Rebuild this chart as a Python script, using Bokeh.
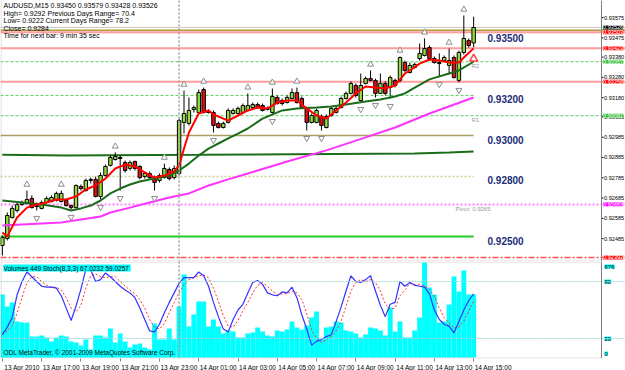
from bokeh.plotting import figure
from bokeh.models import Range1d, Span, BoxAnnotation, FixedTicker, ColumnDataSource
from bokeh.layouts import column
from bokeh.embed import file_html
from bokeh.resources import INLINE
from bokeh.core.properties import value

# ------------------------------------------------------------------ data
symbol = "AUDUSD,M15"
bars = list(range(97))  # M15 bars, 13 Apr 15:00 .. 14 Apr 15:00

opens = [0.92451,0.92486,0.92589,0.92624,0.92653,0.92658,0.92683,0.92648,0.92634,0.92663,
         0.92668,0.92673,0.92668,0.92673,0.92648,0.92638,0.92742,0.92722,0.92772,0.92777,
         0.92693,0.92796,0.92846,0.92875,0.92885,0.92860,0.92831,0.92865,0.92841,0.92791,
         0.92806,0.92786,0.92772,0.92786,0.92826,0.92786,0.92806,0.93058,0.93053,0.93122,
         0.93107,0.93220,0.93112,0.93107,0.93053,0.93033,0.93058,0.93102,0.93102,0.93107,
         0.93117,0.93131,0.93146,0.93141,0.93127,0.93107,0.93181,0.93166,0.93156,0.93176,
         0.93205,0.93176,0.93127,0.93058,0.93058,0.93087,0.93033,0.93092,0.93107,0.93131,
         0.93176,0.93201,0.93240,0.93166,0.93250,0.93274,0.93265,0.93201,0.93250,0.93230,
         0.93265,0.93265,0.93353,0.93304,0.93329,0.93373,0.93388,0.93427,0.93373,0.93353,
         0.93363,0.93339,0.93378,0.93265,0.93403,0.93462,0.93450]
highs = [0.92500,0.92614,0.92648,0.92663,0.92673,0.92722,0.92698,0.92663,0.92673,0.92693,
         0.92698,0.92717,0.92722,0.92683,0.92653,0.92752,0.92752,0.92781,0.92786,0.92791,
         0.92811,0.92850,0.92895,0.92910,0.92895,0.92870,0.92870,0.92870,0.92846,0.92816,
         0.92816,0.92796,0.92806,0.92855,0.92836,0.92846,0.93077,0.93215,0.93181,0.93141,
         0.93220,0.93230,0.93122,0.93117,0.93062,0.93062,0.93127,0.93127,0.93136,0.93151,
         0.93201,0.93156,0.93156,0.93151,0.93136,0.93225,0.93191,0.93176,0.93191,0.93225,
         0.93230,0.93186,0.93136,0.93102,0.93127,0.93097,0.93097,0.93136,0.93136,0.93186,
         0.93210,0.93260,0.93250,0.93299,0.93284,0.93314,0.93274,0.93299,0.93260,0.93289,
         0.93274,0.93383,0.93363,0.93353,0.93353,0.93447,0.93472,0.93437,0.93383,0.93398,
         0.93388,0.93422,0.93388,0.93412,0.93585,0.93472,0.93579]
lows = [0.92402,0.92476,0.92584,0.92614,0.92648,0.92653,0.92634,0.92624,0.92629,0.92658,
        0.92663,0.92668,0.92663,0.92643,0.92629,0.92634,0.92722,0.92717,0.92757,0.92688,
        0.92678,0.92791,0.92841,0.92870,0.92722,0.92811,0.92821,0.92821,0.92777,0.92781,
        0.92777,0.92722,0.92762,0.92781,0.92772,0.92777,0.92796,0.93003,0.93043,0.93107,
        0.93102,0.93102,0.93102,0.93008,0.93028,0.93028,0.93053,0.93097,0.93097,0.93102,
        0.93112,0.93127,0.93127,0.93112,0.93117,0.93102,0.93146,0.93141,0.93151,0.93171,
        0.93151,0.93127,0.93018,0.93053,0.93053,0.93018,0.93028,0.93087,0.93102,0.93127,
        0.93171,0.93196,0.93181,0.93161,0.93245,0.93260,0.93181,0.93201,0.93191,0.93176,
        0.93230,0.93255,0.93304,0.93299,0.93324,0.93363,0.93383,0.93363,0.93348,0.93284,
        0.93358,0.93294,0.93274,0.93255,0.93393,0.93427,0.93428]
closes = [0.92491,0.92599,0.92634,0.92653,0.92663,0.92678,0.92638,0.92643,0.92663,0.92683,
          0.92688,0.92708,0.92708,0.92648,0.92638,0.92747,0.92732,0.92772,0.92777,0.92693,
          0.92796,0.92841,0.92885,0.92890,0.92880,0.92821,0.92860,0.92831,0.92786,0.92806,
          0.92786,0.92762,0.92796,0.92831,0.92781,0.92831,0.93067,0.93102,0.93117,0.93131,
          0.93205,0.93107,0.93107,0.93043,0.93033,0.93053,0.93117,0.93117,0.93127,0.93141,
          0.93141,0.93146,0.93131,0.93117,0.93122,0.93186,0.93151,0.93151,0.93181,0.93205,
          0.93156,0.93131,0.93058,0.93092,0.93117,0.93043,0.93087,0.93127,0.93127,0.93176,
          0.93201,0.93250,0.93191,0.93240,0.93274,0.93265,0.93201,0.93250,0.93201,0.93279,
          0.93240,0.93378,0.93314,0.93339,0.93343,0.93398,0.93422,0.93373,0.93353,0.93348,
          0.93378,0.93363,0.93279,0.93403,0.93472,0.93437,0.93526]
volumes = [448,363,391,256,249,249,149,149,157,142,
           114,142,157,149,114,107,85,128,57,157,
           157,142,206,107,171,114,71,93,100,71,
           57,242,128,128,206,128,363,591,221,306,
           398,398,221,270,221,171,192,185,142,142,
           171,178,213,185,157,149,192,185,199,256,
           213,199,228,285,327,128,213,221,256,249,
           192,185,171,142,164,213,206,192,157,356,
           185,256,142,142,192,285,676,498,448,249,
           256,377,576,470,619,448,449]
stoch_k = [24,32,42,66,80,90,85,80,75,74,74,73,65,52,39,54,72,93,92,80,
           82,89,85,80,75,71,68,63,52,40,28,27,35,47,58,68,78,84,84,84,
           90,86,75,58,43,30,27,40,50,56,68,79,81,77,68,66,65,69,68,74,
           63,45,30,13,17,19,22,24,38,53,70,86,80,79,82,86,70,55,43,56,
           58,80,75,79,76,75,74,67,50,40,35,33,26,38,50,60,67.0232]
stoch_d = [24,28,33,47,63,79,85,85,80,76,74,74,71,63,52,48,55,73,86,88,
           85,84,85,85,80,75,71,67,61,52,40,32,30,36,47,58,68,77,82,84,
           86,87,84,73,59,44,33,32,39,49,58,68,76,79,75,70,66,67,67,70,
           68,61,46,29,20,16,19,22,28,38,54,70,79,82,80,82,79,70,56,51,
           52,65,71,78,77,77,75,72,64,52,42,36,31,32,38,49,59.0257]
stoch_levels = [80, 20]

# moving averages (bar index, price)
fast_ma_bars = [0,1,3,5,7,9,11,13,15,17,19,21,23,25,27,29,31,33,35,36,37,38,40,42,43,46,48,50,52,54,
                56,58,60,62,64,66,68,70,72,74,76,78,80,82,83,85,87,89,91,93,94,96]
fast_ma = [0.92515,0.92496,0.92589,0.92638,0.92653,0.92663,0.92678,0.92678,0.92693,0.92727,
           0.92747,0.92781,0.92831,0.92850,0.92841,0.92811,0.92786,0.92796,0.92816,0.92846,
           0.92929,0.93008,0.93102,0.93117,0.93097,0.93067,0.93092,0.93117,0.93131,0.93127,
           0.93156,0.93166,0.93166,0.93127,0.93092,0.93077,0.93117,0.93156,0.93201,0.93235,
           0.93230,0.93225,0.93240,0.93299,0.93314,0.93348,0.93368,0.93363,0.93353,0.93353,
           0.93378,0.93423]
mid_ma_bars = [0,4,8,12,14,16,18,20,22,24,26,28,30,32,34,36,38,40,42,44,46,48,50,53,57,60,64,67,70,74,
               77,80,82,84,87,91,93,96]
mid_ma = [0.92673,0.92663,0.92653,0.92638,0.92624,0.92634,0.92648,0.92673,0.92708,0.92732,
          0.92752,0.92767,0.92777,0.92786,0.92796,0.92821,0.92855,0.92895,0.92929,0.92954,
          0.92979,0.93003,0.93028,0.93077,0.93117,0.93127,0.93131,0.93136,0.93146,0.93161,
          0.93171,0.93186,0.93201,0.93230,0.93270,0.93299,0.93314,0.93357]
slow_ma_bars = [0,4,8,12,16,20,22,26,30,34,38,42,46,50,58,66,74,80,87,96]
slow_ma = [0.92550,0.92555,0.92560,0.92565,0.92579,0.92594,0.92614,0.92638,0.92663,0.92688,
           0.92708,0.92747,0.92777,0.92806,0.92865,0.92920,0.92984,0.93033,0.93102,0.93181]
daily_ma_bars = [0,13,40,84,91,96]
daily_ma = [0.92898,0.92895,0.92898,0.92905,0.92910,0.92915]

# horizontal levels
bid = 0.93526
pink_levels = [0.93503, 0.93423, 0.93258]
r2, r1 = 0.93357, 0.93091
green_short = 0.93191
olive_top = 0.93512
olive_mid = 0.92993
khaki_level = 0.92791
pivot = 0.92653
lime_level = 0.92495
s1 = 0.92392
round_levels = [0.935, 0.932, 0.930, 0.928, 0.925]
signal_bar, signal_price = [96], [0.93372]

price_ticks = [0.93575,0.93475,0.93380,0.93280,0.93180,0.93085,0.92985,0.92885,0.92785,0.92685,0.92585,0.92485]
time_tick_bars = [0,8,16,24,32,40,48,56,64,72,80,88,96]
time_labels = ["13 Apr 2010","13 Apr 17:00","13 Apr 19:00","13 Apr 21:00","13 Apr 23:00",
               "14 Apr 01:00","14 Apr 03:00","14 Apr 05:00","14 Apr 07:00","14 Apr 09:00",
               "14 Apr 11:00","14 Apr 13:00","14 Apr 15:00"]
day_start_bar = 36

# ------------------------------------------------------------------ layout helpers
FONT = value("Liberation Sans")
BAR0_PX, PX_PER_BAR = 1.88, 4.909
TOP_PRICE, PRICE_PER_PX = 0.93659, 0.0000493
def bx(px): return (px - BAR0_PX) / PX_PER_BAR
def py(px): return TOP_PRICE - PRICE_PER_PX * px
SUB_ZERO, SUB_SCALE = 358 - 262, 0.95
def sv(px): return (SUB_ZERO - px) / SUB_SCALE   # px relative to sub window top
AX = bx(601)
XL = bx(0)
GRAY = "#808080"
SCALE_FONT = "5.6px"

# ------------------------------------------------------------------ main window
p1 = figure(frame_width=625, frame_height=261, x_range=Range1d(bx(0), bx(625)),
            y_range=Range1d(py(261), py(0)), output_backend="svg", toolbar_location=None,
            min_border=0, x_axis_location=None, y_axis_location=None, outline_line_color=None,
            background_fill_color="white", border_fill_color="white")

def hspan(p, v, color, width=1, dash="solid"):
    p.add_layout(Span(location=v, dimension="width", line_color=color, line_width=width,
                      line_dash=dash, level="underlay"))

hspan(p1, bid, "#c8c8c8", 1)
hspan(p1, olive_top, "#b0a040", 1.5)
for v in pink_levels:
    hspan(p1, v, "#ff9c9c", 2)
for v in (r2, r1):
    hspan(p1, v, "#5ccc5c", 1, "3 2")
hspan(p1, pivot, "#ff80ff", 2, "2 2")
hspan(p1, s1, "#ff5050", 1.5, "6 2 2 2")
last = bars[-1]
p1.segment(x0=[XL], x1=[last], y0=[green_short], y1=[green_short], line_color="#5ccc5c", line_dash="3 2", line_width=1)
p1.segment(x0=[XL], x1=[last], y0=[olive_mid], y1=[olive_mid], line_color="#a8a060", line_width=1.5)
p1.segment(x0=[XL], x1=[last], y0=[khaki_level], y1=[khaki_level], line_color="#cfcf94", line_dash="2 2", line_width=1.5)
p1.segment(x0=[XL], x1=[last], y0=[lime_level], y1=[lime_level], line_color="#22cc22", line_width=2)
p1.line(daily_ma_bars, daily_ma, line_color="#1a6e1a", line_width=2)

# candles
tops = [max(o, c) for o, c in zip(opens, closes)]
bots = [min(o, c) for o, c in zip(opens, closes)]
cols = ["#95dd3c" if c >= o else "#dd1111" for o, c in zip(opens, closes)]
src = ColumnDataSource(dict(x=bars, h=highs, l=lows, top=tops, bot=bots, col=cols))
p1.segment(x0="x", y0="h", x1="x", y1="l", source=src, line_color="black", line_width=1)
p1.vbar(x="x", width=0.7, top="top", bottom="bot", source=src, fill_color="col", line_color="black", line_width=1)

p1.line(slow_ma_bars, slow_ma, line_color="#ff33ff", line_width=2)
p1.line(mid_ma_bars, mid_ma, line_color="#1a6b1a", line_width=2)
p1.line(fast_ma_bars, fast_ma, line_color="#ff0000", line_width=2)

# fractals
up_x, up_y, dn_x, dn_y = [], [], [], []
for i in range(2, len(bars) - 2):
    if highs[i] > max(highs[i-2], highs[i-1], highs[i+1], highs[i+2]):
        up_x.append(bars[i]); up_y.append(highs[i] + 0.00030)
    if lows[i] < min(lows[i-2], lows[i-1], lows[i+1], lows[i+2]):
        dn_x.append(bars[i]); dn_y.append(lows[i] - 0.00038)
p1.scatter(up_x, up_y, marker="triangle", size=6, fill_color="white", line_color="#8c8c8c")
p1.scatter(dn_x, dn_y, marker="inverted_triangle", size=6, fill_color="white", line_color="#8c8c8c")
p1.scatter(signal_bar, signal_price, marker="triangle", size=8, fill_color="white", line_color="#ff4040", line_width=1.5)

# day separator + borders
p1.add_layout(Span(location=day_start_bar, dimension="height", line_color="#9a9a9a", line_dash="2 2", line_width=1.5))
p1.add_layout(BoxAnnotation(left=bx(0.5), right=AX, top=py(-2), bottom=py(260.5),
                            fill_alpha=0, fill_color=None, line_color=GRAY, line_width=1))

# header
hdr = [(3, 1.5, f"{symbol}  {opens[-1]:.5f} {highs[-1]:.5f} {lows[-1]:.5f} {closes[-1]:.5f}"),
       (3, 9, "High= 0.9292"), (47, 9, "Previous Days Range= 70.4"),
       (3, 16.5, "Low= 0.9222"), (45, 16.5, "Current Days Range= 78.2"),
       (3, 24, "Close= 0.9284"), (3, 31.5, "Time for next bar: 9 min 35 sec")]
p1.text(x=[bx(a) for a, b, t in hdr], y=[py(b) for a, b, t in hdr], text=[t for a, b, t in hdr],
        text_font=FONT, text_font_size="7px", text_color="black", text_baseline="top", text_align="left")

# big round-level labels
p1.text(x=[bx(487)] * len(round_levels), y=[v - 0.00008 for v in round_levels],
        text=[f"{v:.5f}" for v in round_levels], text_font=FONT, text_font_size="10px",
        text_font_style="bold", text_color="#202e78", text_baseline="top", text_align="left")

# pivot labels
p1.text(x=[bx(471), bx(471), bx(455)], y=[r2 - 0.00006, r1 - 0.00006, pivot - 0.00006],
        text=["R2", "R1", f"Pivot: {pivot:.4f}"], text_font=FONT, text_font_size="6px",
        text_color="#9a9a9a", text_baseline="top", text_align="left")

# right price scale
p1.add_layout(Span(location=AX, dimension="height", line_color=GRAY, line_width=1))
p1.segment(x0=[AX] * len(price_ticks), x1=[bx(603)] * len(price_ticks), y0=price_ticks, y1=price_ticks,
           line_color="black", line_width=1)
p1.text(x=[bx(603.5)] * len(price_ticks), y=price_ticks, text=[f"{t:.5f}" for t in price_ticks],
        text_font=FONT, text_font_size=SCALE_FONT, text_color="black", text_baseline="middle", text_align="left")

tags = [(bid, "black"), (pink_levels[0], "#ff0000"), (pink_levels[1], "#ff0000"), (r2, "#33c033"),
        (pink_levels[2], "#ff0000"), (r1, "#33c033"), (pivot, "#ff00ff"), (s1, "#ff0000")]
for v, c in tags:
    p1.text(x=[bx(602.5)], y=[v], text=[f"{v:.5f}"], text_font=FONT, text_font_size=SCALE_FONT,
            text_color="white", text_baseline="middle", text_align="left",
            background_fill_color=c)

for g in p1.grid:
    g.visible = False

# ------------------------------------------------------------------ sub window
vmax = max(volumes)
p2 = figure(frame_width=625, frame_height=97, x_range=p1.x_range, y_range=Range1d(sv(97), sv(0)),
            output_backend="svg", toolbar_location=None, min_border=0, y_axis_location=None,
            outline_line_color=None, background_fill_color="white", border_fill_color="white")
p2.extra_y_ranges = {"vol": Range1d(sv(97) * vmax / 100, sv(0) * vmax / 100)}
p2.vbar(x=bars, top=volumes, bottom=0, width=1.0, fill_color="#00ffff", line_color=None, y_range_name="vol")
for lv in stoch_levels:
    p2.add_layout(Span(location=lv, dimension="width", line_color="#a0d8d8", line_dash="2 1", line_width=1))
p2.line(bars, stoch_d, line_color="#ff3030", line_dash="2 2", line_width=1)
p2.line(bars, stoch_k, line_color="#3333ff", line_width=1.2)
p2.add_layout(Span(location=day_start_bar, dimension="height", line_color="#9a9a9a", line_dash="2 2", line_width=1.5))
p2.add_layout(Span(location=AX, dimension="height", line_color=GRAY, line_width=1))
p2.add_layout(BoxAnnotation(left=bx(0.5), right=AX, top=sv(0.5), bottom=sv(96.5),
                            fill_alpha=0, fill_color=None, line_color=GRAY, line_width=1))

p2.text(x=[bx(3)], y=[sv(3)], text=[f"Volumes {volumes[-1]}  Stoch(8,3,3) {stoch_k[-1]:.4f} {stoch_d[-1]:.4f}"],
        text_font=FONT, text_font_size="6.5px", text_color="black", text_baseline="top", text_align="left",
        background_fill_color="#00ffff")
p2.text(x=[bx(3)], y=[sv(91)], text=["ODL MetaTrader, \u00a9 2001-2009 MetaQuotes Software Corp."],
        text_font=FONT, text_font_size="6.5px", text_color="black", text_baseline="middle", text_align="left")
p2.text(x=[bx(604)] * 4, y=[sv(5), stoch_levels[0], stoch_levels[1], sv(92)],
        text=[str(vmax), str(stoch_levels[0]), str(stoch_levels[1]), "0"],
        text_font=FONT, text_font_size="6px", text_color="black", text_align="left",
        text_baseline="middle", background_fill_color="#00ffff")

ax = p2.xaxis[0]
centers = [b + 4 for b in time_tick_bars]
ax.ticker = FixedTicker(ticks=centers, minor_ticks=time_tick_bars)
ax.major_label_overrides = {c: lab for c, lab in zip(centers, time_labels)}
ax.major_tick_out = 0
ax.major_tick_in = 0
ax.minor_tick_out = 3
ax.minor_tick_in = 0
ax.minor_tick_line_color = GRAY
ax.axis_line_color = None
ax.major_label_standoff = 2
ax.major_label_text_font = "Liberation Sans"
ax.major_label_text_font_size = "6.5px"
ax.major_label_text_color = "black"
for g in p2.grid:
    g.visible = False

layout = column(p1, p2, spacing=0)
open("out.html", "w").write(file_html(layout, INLINE))
